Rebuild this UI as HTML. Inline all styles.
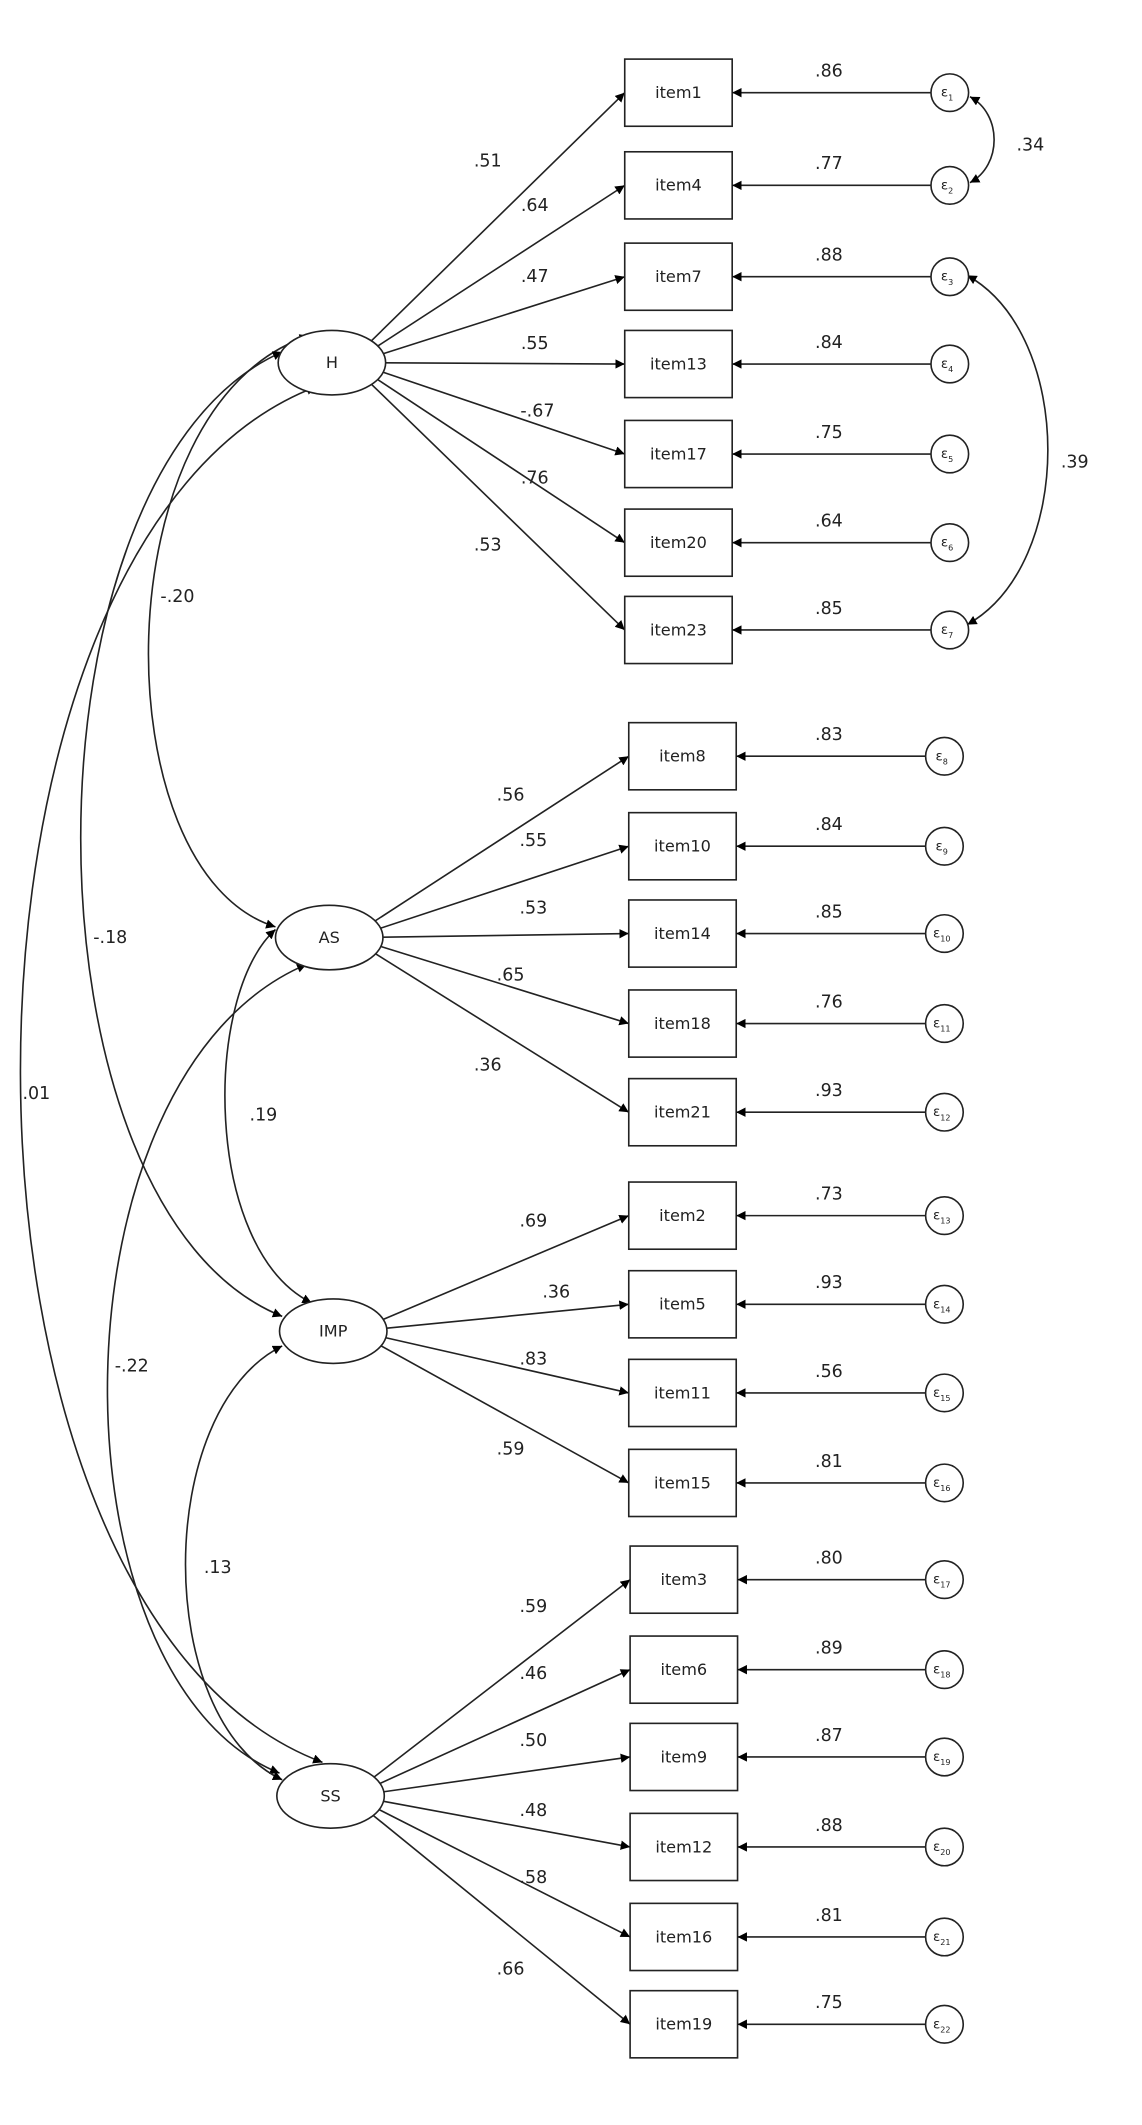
<!DOCTYPE html>
<html><head><meta charset="utf-8"><style>
html,body{margin:0;padding:0;background:#fff}
svg{display:block}
text{font-family:"DejaVu Sans","Liberation Sans",sans-serif;fill:#222}
</style></head><body>
<svg width="1142" height="2125" viewBox="0 0 850 1582" xmlns="http://www.w3.org/2000/svg">
<defs>
<marker id="a" viewBox="0 0 10 10" refX="10" refY="5" markerWidth="7" markerHeight="7" markerUnits="userSpaceOnUse" orient="auto-start-reverse"><path d="M0,0 L10,5 L0,10 z" fill="#000"/></marker>
</defs>
<g fill="none" stroke="#222" stroke-width="1.2">
<!-- covariances -->
<path d="M230,250 C75,300 75,650 205,690" marker-start="url(#a)" marker-end="url(#a)"/>
<path d="M210,262 C10,350 10,900 210,980" marker-start="url(#a)" marker-end="url(#a)"/>
<path d="M235,288 C-59,400 -59,1200 240,1312" marker-start="url(#a)" marker-end="url(#a)"/>
<path d="M205,692 C151,740 151,930 232,970" marker-start="url(#a)" marker-end="url(#a)"/>
<path d="M228,718 C34,800 34,1250 208,1320" marker-start="url(#a)" marker-end="url(#a)"/>
<path d="M210,1002 C114,1050 114,1280 210,1325" marker-start="url(#a)" marker-end="url(#a)"/>
<path d="M722,72 C746,85 746,123 722,136" marker-start="url(#a)" marker-end="url(#a)"/>
<path d="M720,205 C800,250 800,420 720,465" marker-start="url(#a)" marker-end="url(#a)"/>
</g>
<g id="net" stroke="#222" stroke-width="1.2" fill="none"></g>
<script>
const S='http://www.w3.org/2000/svg';
const svg=document.querySelector('svg'),net=document.getElementById('net');
function el(t,a,p){const e=document.createElementNS(S,t);for(const k in a)e.setAttribute(k,a[k]);(p||svg).appendChild(e);return e}
function txt(x,y,s,size,anchor){const e=el('text',{x:x,y:y,'font-size':size||13,'text-anchor':anchor||'middle'});e.textContent=s;return e}
const groups=[
 {cx:247,cy:270,name:'H',bx:465,ex:707,items:[['item1',69,'.51',363,124,'.86'],['item4',138,'.64',398,157,'.77'],['item7',206,'.47',398,210,'.88'],['item13',271,'.55',398,260,'.84'],['item17',338,'-.67',400,310,'.75'],['item20',404,'.76',398,360,'.64'],['item23',469,'.53',363,410,'.85']]},
 {cx:245,cy:698,name:'AS',bx:468,ex:703,items:[['item8',563,'.56',380,596,'.83'],['item10',630,'.55',397,630,'.84'],['item14',695,'.53',397,680,'.85'],['item18',762,'.65',380,730,'.76'],['item21',828,'.36',363,797,'.93']]},
 {cx:248,cy:991,name:'IMP',bx:468,ex:703,items:[['item2',905,'.69',397,913,'.73'],['item5',971,'.36',414,966,'.93'],['item11',1037,'.83',397,1016,'.56'],['item15',1104,'.59',380,1083,'.81']]},
 {cx:246,cy:1337,name:'SS',bx:469,ex:703,items:[['item3',1176,'.59',397,1200,'.80'],['item6',1243,'.46',397,1250,'.89'],['item9',1308,'.50',397,1300,'.87'],['item12',1375,'.48',397,1352,'.88'],['item16',1442,'.58',397,1402,'.81'],['item19',1507,'.66',380,1470,'.75']]}
];
let n=1;
for(const g of groups){
 for(const it of g.items){
  const y=it[1];
  // loading line from ellipse edge
  const dx=g.bx-g.cx,dy=y-g.cy,ang=Math.atan2(dy,dx);
  const sx=g.cx+40*Math.cos(ang),sy=g.cy+24*Math.sin(ang);
  el('line',{x1:sx,y1:sy,x2:g.bx,y2:y,'marker-end':'url(#a)'},net);
  el('rect',{x:g.bx,y:y-25,width:80,height:50,fill:'#fff'},net);
  txt(g.bx+40,y+4,it[0],12);
  txt(it[3],it[4],it[2],13);
  el('line',{x1:g.ex-14,y1:y,x2:g.bx+80,y2:y,'marker-end':'url(#a)'},net);
  el('circle',{cx:g.ex,cy:y,r:14,fill:'#fff'},net);
  const t=el('text',{x:g.ex-2,y:y+3,'font-size':10,'text-anchor':'middle'});
  t.textContent='ε';
  const s=document.createElementNS(S,'tspan');s.setAttribute('font-size',6);s.setAttribute('dy',3);s.textContent=n;t.appendChild(s);
  txt(617,y-12,it[5],13);
  n++;
 }
 el('ellipse',{cx:g.cx,cy:g.cy,rx:40,ry:24,fill:'#fff'},net);
 txt(g.cx,g.cy+4,g.name,12);
}
[['-.20',132,443],['-.18',82,697],['.01',27,813],['.19',196,829],['-.22',98,1016],['.13',162,1166],['.34',767,107],['.39',800,343]].forEach(a=>txt(a[1],a[2]+5,a[0],13));
</script>
</svg>
</body></html>
